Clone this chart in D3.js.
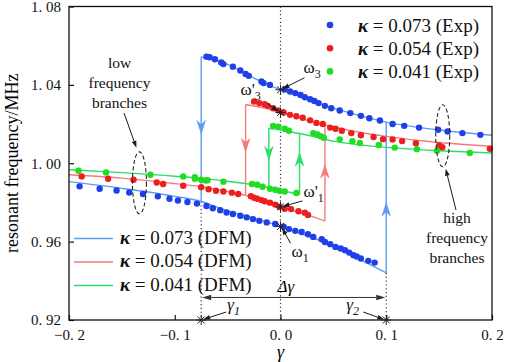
<!DOCTYPE html>
<html>
<head>
<meta charset="utf-8">
<script src="https://cdn.jsdelivr.net/npm/d3@7"></script>
<style>
  body { margin: 0; background: #fff; }
  svg { font-family: 'Liberation Serif', 'Times New Roman', serif; }
</style>
</head>
<body>
<div id="visualization"></div>
<script>
const xTicks = [-0.2, -0.1, 0, 0.1, 0.2];
const yTicks = [0.92, 0.96, 1.0, 1.04, 1.08];
const kappaLabels = ['0.073', '0.054', '0.041'];

// experimental points [gamma, frequency MHz]
const expBlue = [
  [-0.190, 0.9882], [-0.171, 0.9870], [-0.155, 0.9861], [-0.143, 0.9851], [-0.130, 0.9843],
  [-0.116, 0.9831], [-0.105, 0.9819], [-0.097, 0.9810], [-0.088, 0.9802], [-0.079, 0.9794],
  [-0.070, 0.9782], [-0.064, 0.9770], [-0.057, 0.9760], [-0.051, 0.9749], [-0.045, 0.9741],
  [-0.038, 0.9732], [-0.032, 0.9724], [-0.026, 0.9715], [-0.020, 0.9706], [-0.013, 0.9698],
  [-0.005, 0.9690], [0.003, 0.9676], [0.008, 0.9664], [0.014, 0.9655], [0.020, 0.9649],
  [0.026, 0.9638], [0.031, 0.9624], [0.039, 0.9612], [0.042, 0.9598], [0.047, 0.9587],
  [0.052, 0.9573], [0.057, 0.9565], [0.061, 0.9556], [0.065, 0.9544], [0.069, 0.9531],
  [0.072, 0.9524], [0.076, 0.9514], [0.083, 0.9502], [0.089, 0.9493],
  [-0.070, 1.0544], [-0.067, 1.0541], [-0.062, 1.0531], [-0.056, 1.0514], [-0.054, 1.0506],
  [-0.045, 1.0493], [-0.038, 1.0473], [-0.033, 1.0456], [-0.030, 1.0446], [-0.018, 1.0417],
  [-0.016, 1.0409], [-0.010, 1.0400], [0.004, 1.0378], [0.009, 1.0366], [0.014, 1.0358],
  [0.019, 1.0348], [0.023, 1.0337], [0.028, 1.0327], [0.032, 1.0318], [0.036, 1.0307],
  [0.042, 1.0293], [0.048, 1.0281], [0.056, 1.0269], [0.066, 1.0256], [0.076, 1.0242],
  [0.084, 1.0230], [0.094, 1.0218], [0.106, 1.0200], [0.117, 1.0191], [0.131, 1.0182],
  [0.149, 1.0171], [0.158, 1.0162], [0.172, 1.0154], [0.189, 1.0145]
];

const expRed = [
  [-0.188, 0.9933], [-0.163, 0.9921], [-0.139, 0.9916], [-0.117, 0.9902], [-0.111, 0.9894],
  [-0.092, 0.9885], [-0.075, 0.9878], [-0.068, 0.9867], [-0.061, 0.9860], [-0.054, 0.9856],
  [-0.046, 0.9850], [-0.040, 0.9843], [-0.028, 0.9832], [-0.025, 0.9824], [-0.022, 0.9819],
  [-0.018, 0.9812], [-0.015, 0.9806], [-0.010, 0.9799], [-0.005, 0.9789], [-0.001, 0.9778],
  [0.004, 0.9768], [0.010, 0.9766], [0.017, 0.9755], [0.023, 0.9748], [0.026, 0.9736],
  [-0.025, 1.0315], [-0.020, 1.0307], [-0.015, 1.0301], [-0.012, 1.0293], [-0.007, 1.0281],
  [-0.002, 1.0270], [0.003, 1.0259], [0.009, 1.0247], [0.015, 1.0240], [0.021, 1.0232],
  [0.028, 1.0219], [0.034, 1.0206], [0.040, 1.0200], [0.047, 1.0182], [0.052, 1.0176],
  [0.058, 1.0166], [0.067, 1.0154], [0.076, 1.0143], [0.088, 1.0134], [0.097, 1.0123],
  [0.106, 1.0121], [0.115, 1.0113], [0.128, 1.0102], [0.150, 1.0091], [0.153, 1.0082],
  [0.198, 1.0074]
];

const expGreen = [
  [-0.191, 0.9962], [-0.165, 0.9953], [-0.123, 0.9941], [-0.092, 0.9933], [-0.081, 0.9921],
  [-0.071, 0.9912], [-0.081, 0.9929], [-0.075, 0.9916], [-0.069, 0.9913], [-0.054, 0.9906],
  [-0.027, 0.9894], [-0.022, 0.9890], [-0.017, 0.9880], [-0.010, 0.9870], [-0.005, 0.9865],
  [-0.001, 0.9860], [0.004, 0.9856], [0.015, 0.9848],
  [-0.007, 1.0191], [-0.002, 1.0186], [0.004, 1.0176], [0.008, 1.0166], [0.031, 1.0154],
  [0.035, 1.0147], [0.038, 1.0138], [0.041, 1.0130], [0.056, 1.0122], [0.068, 1.0112],
  [0.075, 1.0103], [0.093, 1.0093], [0.108, 1.0080], [0.129, 1.0072], [0.148, 1.0064],
  [0.179, 1.0052]
];

// DFM branches [gamma, frequency MHz]
const dfmBlueLow = [
  [-0.2, 0.9906], [-0.15, 0.9872], [-0.1, 0.9831], [-0.075, 0.9805], [-0.05, 0.9757],
  [-0.025, 0.9720], [0, 0.9678], [0.025, 0.9630], [0.05, 0.9580], [0.075, 0.9510], [0.1, 0.9440]
];
const dfmBlueHigh = [
  [-0.075, 1.0543], [-0.05, 1.0505], [-0.025, 1.0435], [0, 1.0375], [0.025, 1.0330],
  [0.05, 1.0281], [0.075, 1.0243], [0.1, 1.0210], [0.15, 1.0170], [0.2, 1.0143]
];
const dfmRedLow = [
  [-0.2, 0.9941], [-0.15, 0.9924], [-0.1, 0.9896], [-0.075, 0.9880], [-0.05, 0.9855],
  [-0.033, 0.9836], [-0.025, 0.9824], [0, 0.9777], [0.025, 0.9738], [0.042, 0.9705]
];
const dfmRedHigh = [
  [-0.033, 1.0300], [-0.015, 1.0282], [0, 1.0260], [0.025, 1.0220], [0.042, 1.0195],
  [0.075, 1.0158], [0.1, 1.0137], [0.15, 1.0106], [0.2, 1.0086]
];
const dfmGreenLow = [
  [-0.2, 0.9967], [-0.15, 0.9952], [-0.1, 0.9934], [-0.075, 0.9923], [-0.05, 0.9908],
  [-0.025, 0.9890], [-0.011, 0.9877], [0, 0.9862], [0.018, 0.9840]
];
const dfmGreenHigh = [
  [-0.011, 1.0178], [0, 1.0170], [0.018, 1.0152], [0.03, 1.0138], [0.05, 1.0113],
  [0.075, 1.0094], [0.1, 1.0081], [0.15, 1.0064], [0.2, 1.0052]
];

// jump positions [down, up] and where their arrow heads sit
const jumpsX = [[-0.075, 0.1], [-0.033, 0.042], [-0.011, 0.018]];
const jumpArrowsY = [[1.0186, 0.9763], [1.0094, 0.9957], [1.0053, 1.0018]];

// marked points on gamma = 0
const omegaPoints = [['ω', '3', false, 1.0375], ['ω', '3', true, 1.0259], ['ω', '1', true, 0.9777], ['ω', '1', false, 0.9678]];

class HysteresisChart {
  width = 505;

  height = 362;

  margin = { top: 6.5, right: 13, bottom: 42, left: 69 };

  dotColors = ['#1f3fe8', '#ec1f1f', '#22dc22'];

  lineColors = ['#5e9df2', '#f27c7c', '#2ade6a'];

  annColor = '#1a1a1a';

  createSvg() {
    this.svg = d3.select('#visualization')
      .append('svg')
      .attr('width', this.width)
      .attr('height', this.height);
    this.g = this.svg.append('g');
  }

  getScales() {
    this.x = d3.scaleLinear().domain([-0.2, 0.2])
      .range([this.margin.left, this.width - this.margin.right]);
    this.y = d3.scaleLinear().domain([0.92, 1.08])
      .range([this.height - this.margin.bottom, this.margin.top]);
  }

  static fmt(v) {
    return d3.format('.1f')(v).replace('-', '−').replace('.', '. ');
  }

  drawAxis() {
    const { x, y, g } = this;
    const bottom = this.height - this.margin.bottom;

    const xa = g.append('g')
      .attr('transform', `translate(0,${bottom})`)
      .call(d3.axisBottom(x).tickValues(xTicks).tickSizeInner(-5).tickSizeOuter(0)
        .tickPadding(9).tickFormat(HysteresisChart.fmt));
    const ya = g.append('g')
      .attr('transform', `translate(${this.margin.left},0)`)
      .call(d3.axisLeft(y).tickValues(yTicks).tickSizeInner(-5).tickSizeOuter(0)
        .tickPadding(8).tickFormat((v) => d3.format('.2f')(v).replace('.', '. ')));
    [xa, ya].forEach((a) => {
      a.select('.domain').remove();
      a.selectAll('line').attr('stroke', '#111').attr('stroke-width', 1.2);
      a.selectAll('text').attr('font-family', 'Liberation Serif').attr('font-size', 15).attr('fill', '#111');
    });

    g.append('rect')
      .attr('x', x(-0.2)).attr('y', y(1.08))
      .attr('width', x(0.2) - x(-0.2)).attr('height', y(0.92) - y(1.08))
      .attr('fill', 'none').attr('stroke', '#111').attr('stroke-width', 1.3);

    g.append('text')
      .attr('x', x(0)).attr('y', 358)
      .attr('text-anchor', 'middle').attr('font-style', 'italic').attr('font-size', 18)
      .text('γ');

    g.append('text')
      .attr('transform', `translate(18,${(y(0.92) + y(1.08)) / 2}) rotate(-90)`)
      .attr('text-anchor', 'middle').attr('font-size', 18)
      .text('resonant frequency/MHz');
  }

  drawGuides() {
    const { x, y, g } = this;
    const dotted = (x1, y1, x2, y2) => g.append('line')
      .attr('x1', x1).attr('y1', y1).attr('x2', x2).attr('y2', y2)
      .attr('stroke', '#333').attr('stroke-width', 1.2).attr('stroke-dasharray', '1.2,2.6');
    dotted(x(0), y(1.08), x(0), y(0.92));
    dotted(x(jumpsX[0][0]), y(dfmBlueLow[3][1]), x(jumpsX[0][0]), y(0.92));
    dotted(x(jumpsX[0][1]), y(dfmBlueLow[dfmBlueLow.length - 1][1]), x(jumpsX[0][1]), y(0.92));

    // delta gamma double arrow
    const ay = y(0.9315);
    this.arrow(x(jumpsX[0][0]) + 20, ay, x(jumpsX[0][0]) + 1, ay, 9, 2.8, '#333');
    this.arrow(x(jumpsX[0][0]) + 18, ay, x(jumpsX[0][1]) - 1, ay, 9, 2.8, '#333');
  }

  arrow(x1, y1, x2, y2, len = 7, half = 2.4, color = this.annColor) {
    const a = Math.atan2(y2 - y1, x2 - x1);
    const bx = x2 - len * Math.cos(a);
    const by = y2 - len * Math.sin(a);
    this.g.append('line')
      .attr('x1', x1).attr('y1', y1).attr('x2', bx).attr('y2', by)
      .attr('stroke', color).attr('stroke-width', 1);
    this.g.append('path')
      .attr('d', `M${x2},${y2}L${bx + half * Math.sin(a)},${by - half * Math.cos(a)}`
        + `L${bx - half * Math.sin(a)},${by + half * Math.cos(a)}Z`)
      .attr('fill', color);
  }

  drawCurves() {
    const { x, y, g } = this;
    const line = d3.line().x((d) => x(d[0])).y((d) => y(d[1])).curve(d3.curveMonotoneX);
    const branches = [[dfmBlueLow, dfmBlueHigh], [dfmRedLow, dfmRedHigh], [dfmGreenLow, dfmGreenHigh]];

    branches.forEach(([low, high], i) => {
      const color = this.lineColors[i];
      [low, high].forEach((b) => {
        g.append('path').datum(b)
          .attr('d', line)
          .attr('fill', 'none').attr('stroke', color).attr('stroke-width', 1.4);
      });
      const [xd, xu] = jumpsX[i];
      const at = (b, v) => b.find((d) => d[0] === v)[1];
      const jumps = [[xd, at(high, xd), at(low, xd), 1], [xu, at(low, xu), at(high, xu), -1]];
      jumps.forEach(([jx, from, to, dir], k) => {
        g.append('line')
          .attr('x1', x(jx)).attr('x2', x(jx)).attr('y1', y(from)).attr('y2', y(to))
          .attr('stroke', color).attr('stroke-width', 1.4);
        const cx = x(jx);
        const cy = y(jumpArrowsY[i][k]);
        const pts = [[0, 8], [-4.8, -7], [0, -2.5], [4.8, -7]];
        g.append('path')
          .attr('d', `M${pts.map(([a, b]) => `${cx + a},${cy + b * dir}`).join('L')}Z`)
          .attr('fill', color);
      });
    });
  }

  drawCircles() {
    const { x, y, g } = this;
    [expBlue, expRed, expGreen].forEach((set, i) => {
      g.append('g').selectAll('circle')
        .data(set)
        .enter()
        .append('circle')
        .attr('cx', (d) => x(d[0]))
        .attr('cy', (d) => y(d[1]))
        .attr('r', 3.2)
        .attr('fill', this.dotColors[i]);
    });
  }

  star(cx, cy) {
    [d3.symbolPlus, d3.symbolTimes].forEach((t) => {
      this.g.append('path')
        .attr('transform', `translate(${cx},${cy})`)
        .attr('d', d3.symbol(t, 34)())
        .attr('fill', 'none').attr('stroke', '#222').attr('stroke-width', 1);
    });
  }

  label(px, py, main, sub, opts = {}) {
    const t = this.g.append('text')
      .attr('x', px).attr('y', py)
      .attr('font-size', opts.size || 17)
      .attr('font-style', opts.italic ? 'italic' : 'normal')
      .attr('fill', '#111');
    t.append('tspan').text(opts.prime ? `${main}'` : main);
    t.append('tspan').attr('dy', 5).attr('font-size', 12).text(sub);
  }

  drawAnnotations() {
    const { x, y, g } = this;
    const x0 = x(0);

    omegaPoints.forEach((d) => this.star(x0, y(d[3])));
    this.star(x(jumpsX[0][0]), y(0.92));
    this.star(x(jumpsX[0][1]), y(0.92));

    // omega labels
    const [w3, w3p, w1p, w1] = omegaPoints;
    this.label(x0 + 23, y(w3[3]) - 17, w3[0], w3[1]);
    this.arrow(x0 + 24, y(w3[3]) - 12, x0 + 2, y(w3[3]) - 1);
    this.label(x0 - 40, y(w3p[3]) - 18, w3p[0], w3p[1], { prime: true });
    this.arrow(x0 - 13, y(w3p[3]) - 9, x0 - 2, y(w3p[3]) - 1);
    this.label(x0 + 23, y(w1p[3]) - 10, w1p[0], w1p[1], { prime: true });
    this.arrow(x0 + 22, y(w1p[3]) - 6, x0 + 2, y(w1p[3]) - 0.5);
    this.label(x0 + 11, y(w1[3]) + 31, w1[0], w1[1]);
    this.arrow(x0 + 10, y(w1[3]) + 17, x0 + 1.5, y(w1[3]) + 1.5);

    // gamma labels
    this.label(x(jumpsX[0][0]) + 26, 310, 'γ', '1', { italic: true, size: 17 });
    this.arrow(x(jumpsX[0][0]) + 25, 312, x(jumpsX[0][0]) + 2, 319.5);
    this.label(x(jumpsX[0][1]) - 40, 310, 'γ', '2', { italic: true, size: 17 });
    this.arrow(x(jumpsX[0][1]) - 23, 312, x(jumpsX[0][1]) - 2, 319.5);
    g.append('text').attr('x', x0 - 3).attr('y', 292)
      .attr('font-size', 17).attr('font-style', 'italic').text('Δγ');

    // branch ellipses
    const ell = (cx, cy) => g.append('ellipse')
      .attr('cx', cx).attr('cy', cy).attr('rx', 7).attr('ry', 31)
      .attr('fill', 'none').attr('stroke', '#222').attr('stroke-width', 1.1)
      .attr('stroke-dasharray', '4,2.5');
    ell(x(-0.1334), y(0.99));
    ell(x(0.1534), y(1.014));

    const words = (cx, y0, lines) => lines.forEach((s, i) => g.append('text')
      .attr('x', cx).attr('y', y0 + i * 20)
      .attr('text-anchor', 'middle').attr('font-size', 15.5).attr('fill', '#111')
      .text(s));
    words(119.5, 68, ['low', 'frequency', 'branches']);
    this.arrow(124, 113, x(-0.1334) - 3, y(0.99) - 35);
    words(457, 223, ['high', 'frequency', 'branches']);
    this.arrow(456, 210, x(0.1534) + 3, y(1.014) + 33);
  }

  drawLegends() {
    const { g } = this;
    const kappaText = (px, py, k, tag) => {
      const t = g.append('text').attr('x', px).attr('y', py).attr('font-size', 19).attr('fill', '#111');
      t.append('tspan').attr('font-style', 'italic').attr('font-weight', 'bold').text('κ');
      t.append('tspan').text(` = ${k} (${tag})`);
    };
    kappaLabels.forEach((k, i) => {
      const cy = 25 + i * 23.2;
      g.append('circle').attr('cx', 330).attr('cy', cy).attr('r', 3.3).attr('fill', this.dotColors[i]);
      kappaText(358, cy + 6.5, k, 'Exp');

      const ly = 237 + i * 23.5;
      g.append('line').attr('x1', 74).attr('x2', 113).attr('y1', ly + 1.5).attr('y2', ly + 1.5)
        .attr('stroke', this.lineColors[i]).attr('stroke-width', 1.6);
      kappaText(120, ly + 6.5, k, 'DFM');
    });
  }

  draw() {
    d3.select('#visualization').html('');
    this.createSvg();
    this.getScales();
    this.drawGuides();
    this.drawCurves();
    this.drawCircles();
    this.drawAxis();
    this.drawAnnotations();
    this.drawLegends();
  }
}

new HysteresisChart().draw();
</script>
</body>
</html>
